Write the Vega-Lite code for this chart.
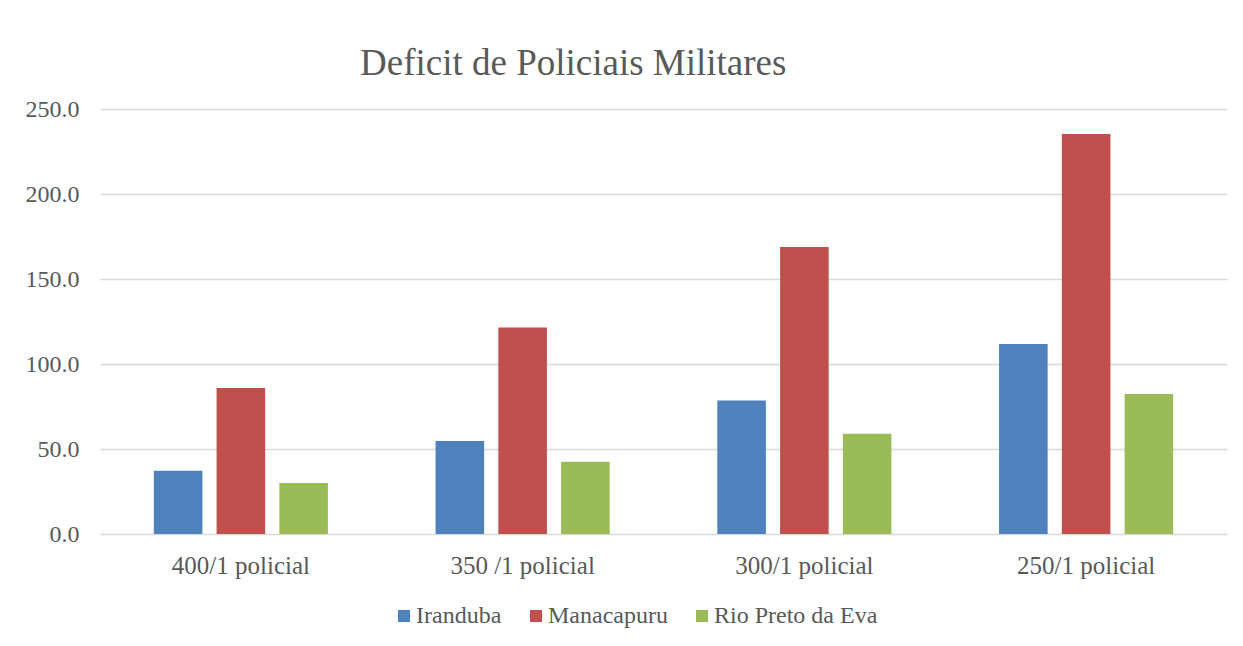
{
  "$schema": "https://vega.github.io/schema/vega-lite/v6.json",
  "autosize": "none",
  "padding": {"left": 100, "top": 109, "right": 16, "bottom": 112},
  "width": 1127,
  "height": 425,
  "background": "white",
  "title": {
    "text": "Deficit de Policiais Militares",
    "anchor": "start",
    "frame": "group",
    "dx": 260,
    "offset": -15,
    "baseline": "alphabetic",
    "font": "Liberation Serif",
    "fontSize": 37,
    "fontWeight": "normal",
    "color": "#595959"
  },
  "data": {
    "values": [
      {"ratio": "400/1 policial", "municipio": "Iranduba", "deficit": 37.2},
      {"ratio": "400/1 policial", "municipio": "Manacapuru", "deficit": 85.9},
      {"ratio": "400/1 policial", "municipio": "Rio Preto da Eva", "deficit": 30.0},
      {"ratio": "350 /1 policial", "municipio": "Iranduba", "deficit": 54.7},
      {"ratio": "350 /1 policial", "municipio": "Manacapuru", "deficit": 121.4},
      {"ratio": "350 /1 policial", "municipio": "Rio Preto da Eva", "deficit": 42.5},
      {"ratio": "300/1 policial", "municipio": "Iranduba", "deficit": 78.6},
      {"ratio": "300/1 policial", "municipio": "Manacapuru", "deficit": 168.8},
      {"ratio": "300/1 policial", "municipio": "Rio Preto da Eva", "deficit": 59.0},
      {"ratio": "250/1 policial", "municipio": "Iranduba", "deficit": 111.8},
      {"ratio": "250/1 policial", "municipio": "Manacapuru", "deficit": 235.3},
      {"ratio": "250/1 policial", "municipio": "Rio Preto da Eva", "deficit": 82.4}
    ]
  },
  "mark": {"type": "bar"},
  "encoding": {
    "x": {
      "field": "ratio",
      "type": "nominal",
      "sort": ["400/1 policial", "350 /1 policial", "300/1 policial", "250/1 policial"],
      "scale": {"paddingInner": 0.382, "paddingOuter": 0.191},
      "axis": {
        "title": null,
        "labelAngle": 0,
        "domain": false,
        "ticks": false,
        "tickSize": 0,
        "labelPadding": 39,
        "labelBaseline": "alphabetic",
        "labelFont": "Liberation Serif",
        "labelFontSize": 25,
        "labelColor": "#595959"
      }
    },
    "xOffset": {
      "field": "municipio",
      "type": "nominal",
      "sort": ["Iranduba", "Manacapuru", "Rio Preto da Eva"],
      "scale": {"paddingInner": 0.226, "paddingOuter": 0}
    },
    "y": {
      "field": "deficit",
      "type": "quantitative",
      "scale": {"domain": [0, 250], "nice": false},
      "axis": {
        "title": null,
        "values": [0, 50, 100, 150, 200, 250],
        "format": ".1f",
        "domain": false,
        "ticks": false,
        "tickSize": 0,
        "labelPadding": 21,
        "labelFont": "Liberation Serif",
        "labelFontSize": 24,
        "labelColor": "#595959",
        "gridColor": "#d9d9d9",
        "gridWidth": 1.4
      }
    },
    "color": {
      "field": "municipio",
      "type": "nominal",
      "sort": ["Iranduba", "Manacapuru", "Rio Preto da Eva"],
      "scale": {
        "domain": ["Iranduba", "Manacapuru", "Rio Preto da Eva"],
        "range": ["#4f81bd", "#c0504d", "#9bbb59"]
      },
      "legend": {
        "title": null,
        "orient": "none",
        "direction": "horizontal",
        "legendX": 292,
        "legendY": 495,
        "padding": 0,
        "symbolType": "square",
        "symbolSize": 144,
        "symbolStrokeWidth": 0,
        "symbolOpacity": 1,
        "labelOffset": 0,
        "columnPadding": 22,
        "labelLimit": 400,
        "labelFont": "Liberation Serif",
        "labelFontSize": 24,
        "labelColor": "#595959"
      }
    }
  },
  "config": {
    "view": {"stroke": null}
  }
}
